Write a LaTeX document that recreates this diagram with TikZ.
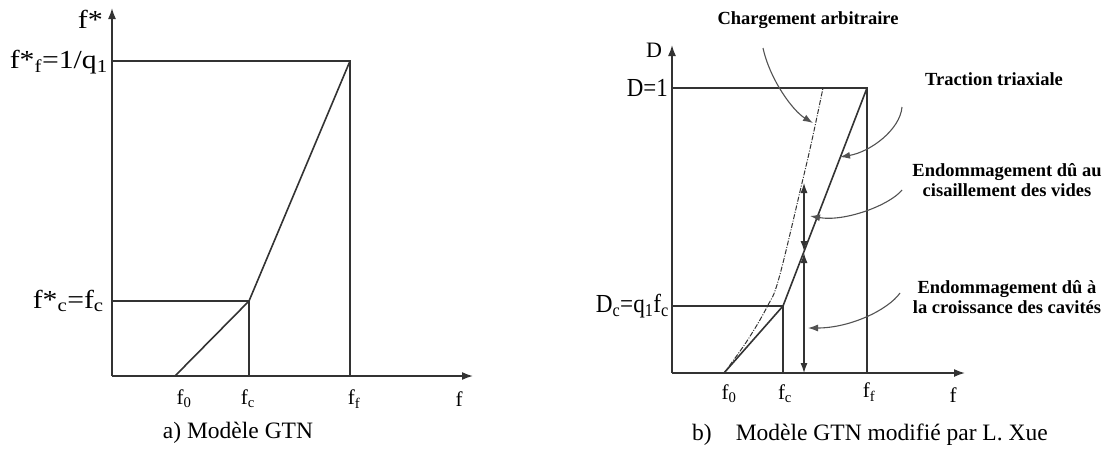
\documentclass[tikz,border=0pt]{standalone}
\usepackage{fontspec}
\setmainfont{Liberation Serif}
\usetikzlibrary{arrows.meta}
\definecolor{ink}{HTML}{333333}
\tikzset{
  axisline/.style={-{Latex[length=11pt,width=8pt]}, ink, line width=1.6pt},
  guide/.style={ink, line width=1.5pt},
  lawline/.style={ink, line width=1.6pt, line join=round},
  arbline/.style={ink, line width=1pt, dash pattern=on 5pt off 1.5pt on 1pt off 1.5pt},
  pointer/.style={-{Latex[length=10pt,width=7pt]}, ink!85, line width=1.1pt},
  span/.style={{Latex[length=10pt,width=7pt]}-{Latex[length=10pt,width=7pt]}, ink, line width=1.1pt},
  biglbl/.style={font=\fontsize{26}{28}\selectfont, inner sep=0pt},
  ticklbl/.style={font=\fontsize{21}{23}\selectfont, inner sep=0pt},
  note/.style={font=\bfseries\fontsize{18.5}{20}\selectfont, align=center, inner sep=0pt},
  capt/.style={font=\fontsize{23.5}{26}\selectfont, inner sep=0pt}
}
\newcommand{\ix}[1]{\textsubscript{#1}}
\newcommand{\wlbl}[2]{\resizebox{#1}{\height}{#2}}

\begin{document}
\begin{tikzpicture}[x=1pt, y=-1pt]
\useasboundingbox (0,0) rectangle (1111,448);

% a) GTN
\coordinate (a0) at (112,376);
\coordinate (atop) at (112,8);
\coordinate (aend) at (473,376);
\coordinate (af0) at (175,376);
\coordinate (afc) at (249,376);
\coordinate (aff) at (350,376);
\coordinate (ayc) at (112,301);
\coordinate (ayf) at (112,61);
\coordinate (ac) at (249,301);
\coordinate (af) at (350,61);
\draw[axisline] (a0) -- (atop);
\draw[axisline] (a0) -- (aend);
\draw[guide] (ayf) -- (af) -- (aff);
\draw[guide] (ayc) -- (ac) -- (afc);
\draw[lawline] (af0) -- (ac) -- (af);
\node[biglbl, anchor=east] (laxy) at (103,19) {\wlbl{25pt}{f*}};
\node[biglbl, anchor=east] (laf) at (108,62) {\wlbl{98pt}{f*\ix{f}=1/q\ix{1}}};
\node[biglbl, anchor=east] (lac) at (104,301) {\wlbl{71pt}{f*\ix{c}=f\ix{c}}};
\node[ticklbl] (lf0) at (184,399) {f\ix{0}};
\node[ticklbl] (lfc) at (248,399) {f\ix{c}};
\node[ticklbl] (lff) at (354,399) {f\ix{f}};
\node[ticklbl] (lax) at (459,399) {f};
\node[capt] (capa) at (238,433) {a) Modèle GTN};

% b) GTN modifie
\coordinate (b0) at (672,373);
\coordinate (btop) at (672,45);
\coordinate (bend) at (965,373);
\coordinate (bf0) at (724,373);
\coordinate (bfc) at (783,373);
\coordinate (bff) at (867,373);
\coordinate (byc) at (672,306);
\coordinate (byf) at (672,88);
\coordinate (bc) at (783,306);
\coordinate (bf) at (867,88);
\draw[axisline] (b0) -- (btop);
\draw[axisline] (b0) -- (bend);
\draw[guide] (byf) -- (bf) -- (bff);
\draw[guide] (byc) -- (bc) -- (bfc);
\draw[lawline] (bf0) -- (bc) -- (bf);
\draw[arbline] plot[smooth, tension=0.6] coordinates {(724,373) (747,341) (767,307) (779,278) (802,183) (812,140) (823,88)};
% domaines
\coordinate (s0) at (804,373);
\coordinate (s1) at (804,253);
\coordinate (s2) at (804,251);
\coordinate (s3) at (804,183);
\draw[span] (s1) -- (s0);
\draw[span] (s3) -- (s2);
\node[biglbl, font=\fontsize{22}{24}\selectfont] (lbxy) at (654,50) {D};
\node[biglbl, anchor=east] (lbf) at (668,88) {\wlbl{41pt}{D=1}};
\node[biglbl, anchor=east] (lbc) at (669,306) {\wlbl{73pt}{D\ix{c}=q\ix{1}f\ix{c}}};
\node[ticklbl] (mf0) at (729,394) {f\ix{0}};
\node[ticklbl] (mfc) at (785,394) {f\ix{c}};
\node[ticklbl] (mff) at (869,392) {f\ix{f}};
\node[ticklbl] (mbx) at (953,395) {f};
% renvois
\node[note] (narb) at (808,20) {Chargement arbitraire};
\node[note] (ntri) at (994,79) {Traction triaxiale};
\node[note] (ncis) at (1007,180) {Endommagement dû au\\cisaillement des vides};
\node[note] (ncro) at (1007,297) {Endommagement dû à\\la croissance des cavités};
\coordinate (parb) at (763,48);
\coordinate (ptri) at (902,107);
\coordinate (pcis) at (902,190);
\coordinate (pcro) at (900,293);
\coordinate (qarb) at (813,123);
\coordinate (qtri) at (840,157);
\coordinate (qcis) at (810,216);
\coordinate (qcro) at (808,328);
\draw[pointer] (parb) .. controls (770,80) and (793,111) .. (qarb);
\draw[pointer] (ptri) .. controls (900,130) and (870,152) .. (qtri);
\draw[pointer] (pcis) .. controls (890,205) and (845,222) .. (qcis);
\draw[pointer] (pcro) .. controls (888,310) and (850,328) .. (qcro);
\node[capt, anchor=west] (capb) at (692,435) {b)\hspace{24pt}Modèle GTN modifié par L. Xue};
\end{tikzpicture}
\end{document}
